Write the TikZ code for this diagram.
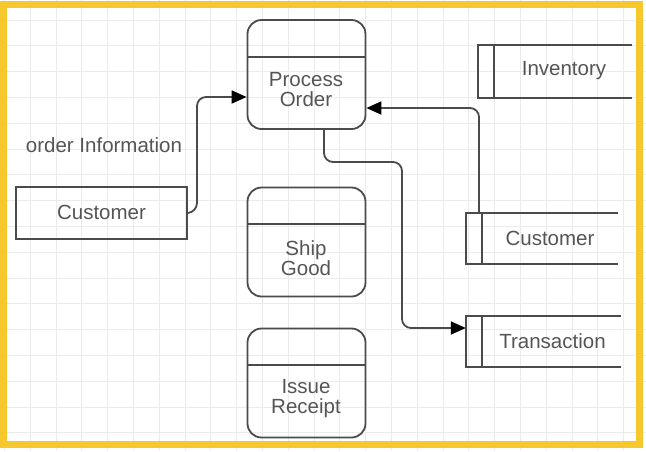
\documentclass[tikz,border=0pt]{standalone}
\usepackage{fontspec}
\setmainfont{Liberation Sans}
\usetikzlibrary{arrows.meta}
\definecolor{frameyellow}{RGB}{246,200,45}
\definecolor{gridgray}{RGB}{234,236,236}
\definecolor{linegray}{RGB}{75,75,75}
\definecolor{textgray}{RGB}{85,85,85}
\tikzset{
  procbox/.style={draw=linegray, line width=1.8pt, rounded corners=14pt, minimum width=118pt, minimum height=109pt, inner sep=0pt},
  storebox/.style={inner sep=0pt},
  extbox/.style={draw=linegray, line width=1.8pt, minimum width=171pt, minimum height=52pt, inner sep=0pt},
  lbl/.style={text=textgray, font=\fontsize{20.5pt}{21pt}\selectfont, align=center, inner sep=0pt},
  flow/.style={draw=linegray, line width=1.8pt, rounded corners=9pt, -{Triangle[length=15pt,width=13pt,fill=black,color=black]}},
  storeline/.style={draw=linegray, line width=1.8pt}
}
\begin{document}
\begin{tikzpicture}[x=1pt,y=-1pt]
\useasboundingbox (0,0) rectangle (646,451);
\fill[white] (0,0) rectangle (646,451);
% grid
\foreach \i in {0,...,25} { \draw[gridgray, line width=0.8pt] ({4.3+25.8*\i},0) -- ({4.3+25.8*\i},451); }
\foreach \j in {0,...,18} { \draw[gridgray, line width=0.8pt] (0,{20+25.8*(\j-1)}) -- (646,{20+25.8*(\j-1)}); }
% frame
\draw[frameyellow, line width=7pt] (3.5,4.5) rectangle (639.5,444.5);

% process boxes
\node[procbox] (po) at (306.5,74.5) {};
\draw[linegray, line width=1.8pt] (po.west |- 0,57) -- (po.east |- 0,57);
\node[lbl] (pot) at (306,90) {Process\\[-1pt]Order};

\node[procbox] (sg) at (306.5,242) {};
\draw[linegray, line width=1.8pt] (sg.west |- 0,224) -- (sg.east |- 0,224);
\node[lbl] (sgt) at (306,258) {Ship\\[-1pt]Good};

\node[procbox] (ir) at (306.5,383) {};
\draw[linegray, line width=1.8pt] (ir.west |- 0,365) -- (ir.east |- 0,365);
\node[lbl] (irt) at (306,399) {Issue\\[-1pt]Receipt};

% external entity
\node[extbox] (cl) at (101.5,213) {};
\node[lbl] (clt) at (101.5,212) {Customer};

% data stores
\node[storebox, minimum width=154pt, minimum height=53pt] (inv) at (555,71.5) {};
\draw[storeline] (inv.north east) -- (inv.north west) -- (inv.south west) -- (inv.south east);
\draw[storeline] ([xshift=16pt]inv.north west) -- ([xshift=16pt]inv.south west);
\node[lbl] (invt) at (564,71) {Inventory};

\node[storebox, minimum width=152pt, minimum height=51pt] (cr) at (542,238.5) {};
\draw[storeline] (cr.north east) -- (cr.north west) -- (cr.south west) -- (cr.south east);
\draw[storeline] ([xshift=16pt]cr.north west) -- ([xshift=16pt]cr.south west);
\node[lbl] (crt) at (550,238) {Customer};

\node[storebox, minimum width=155pt, minimum height=51pt] (tr) at (543.5,341.5) {};
\draw[storeline] (tr.north east) -- (tr.north west) -- (tr.south west) -- (tr.south east);
\draw[storeline] ([xshift=16pt]tr.north west) -- ([xshift=16pt]tr.south west);
\node[lbl] (trt) at (552.5,341) {Transaction};

% label
\node[lbl] (oi) at (104,145) {order Information};

% flows
\coordinate (c1a) at (197,212);
\coordinate (c1b) at (197,97);
\draw[flow] (cl.east) -- (c1a) -- (c1b) -- (po.west |- c1b);

\coordinate (c2a) at (479,108);
\draw[flow] (cr.north west -| c2a) -- (c2a) -- (po.east |- c2a);

\coordinate (c3a) at (324,162);
\coordinate (c3b) at (402,162);
\coordinate (c3c) at (402,328);
\draw[flow] (po.south -| c3a) -- (c3a) -- (c3b) -- (c3c) -- (tr.west |- c3c);
\end{tikzpicture}
\end{document}
